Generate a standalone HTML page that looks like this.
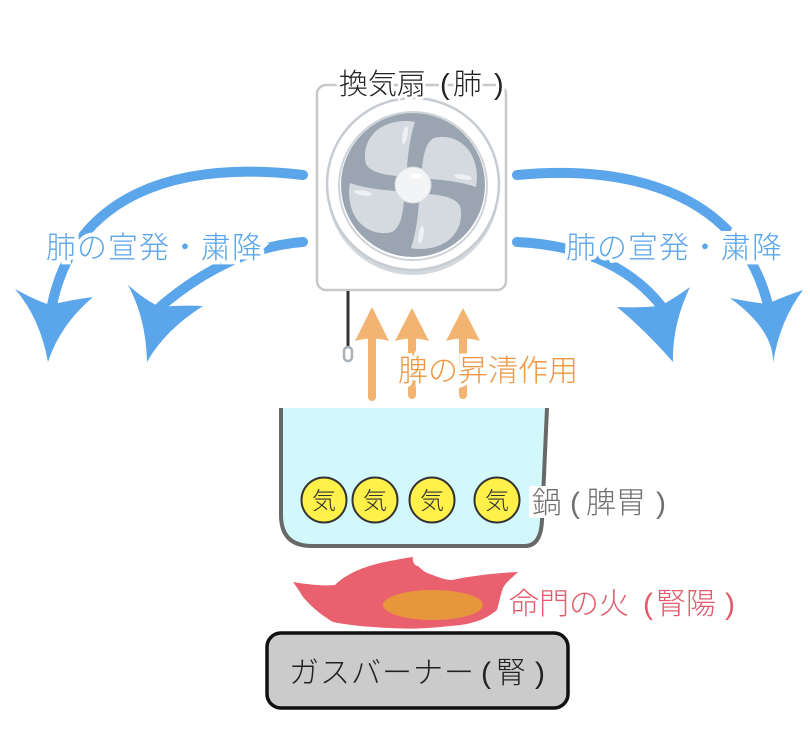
<!DOCTYPE html>
<html><head><meta charset="utf-8"><style>
html,body{margin:0;padding:0;background:#fff;}
svg{display:block;}
text{font-family:"Liberation Sans","Noto Sans CJK JP",sans-serif;font-weight:300;}
</style></head><body>
<svg width="810" height="730" viewBox="0 0 810 730" xmlns="http://www.w3.org/2000/svg">
<rect width="810" height="730" fill="#fff"/>

<!-- Blue arcs -->
<g fill="none" stroke="#5ba5eb" stroke-width="10" stroke-linecap="round">
  <path d="M303,175 C175,160 75,195 52,305"/>
  <path d="M303,242 C258,245 208,266 160,307"/>
  <path d="M517,175 C640,163 742,200 768,305"/>
  <path d="M517,242 C580,245 630,266 662,307"/>
</g>
<g fill="#5ba5eb">
  <path d="M48,362 Q40,318 15,289 Q35,300 50,305 Q70,300 93,297 Q60,325 48,362 Z"/>
  <path d="M147,362 Q146,318 128,285 Q145,300 160,307 Q180,305 203,306 Q165,330 147,362 Z"/>
  <path d="M773,363 Q774,330 730,298 Q750,302 767,304 Q785,296 803,290 Q780,320 773,363 Z"/>
  <path d="M673,362 Q645,330 617,307 Q640,308 660,306 Q675,298 690,287 Q672,325 673,362 Z"/>
</g>
<g fill="#5ba5eb" stroke="#fff" stroke-width="8" paint-order="stroke" font-size="30">
  <text x="46" y="258" textLength="216" lengthAdjust="spacing">肺の宣発・粛降</text>
  <text x="566" y="258" textLength="216" lengthAdjust="spacing">肺の宣発・粛降</text>
</g>

<!-- Fan box -->
<rect x="317" y="85" width="189" height="205" rx="9" fill="#fff" stroke="#c6c8cb" stroke-width="2.5"/>
<!-- fan -->
<circle cx="413" cy="189" r="86" fill="#d3d8dd"/>
<circle cx="413" cy="184" r="86" fill="#fff" stroke="#c6ccd2" stroke-width="2.5"/>
<circle cx="413" cy="186" r="74" fill="#fff" stroke="#cfd4d9" stroke-width="2"/>
<circle cx="413" cy="185" r="72" fill="#9aa5b1"/>
<g transform="translate(413,185)" fill="#d5dae0">
  <path d="M-6,-17 C-5,-32 -3,-48 2,-63 C-12,-66 -28,-62 -37,-54 C-47,-45 -50,-32 -47,-21 C-43,-13 -30,-10 -15,-9 Z"/>
  <path d="M-6,-17 C-5,-32 -3,-48 2,-63 C-12,-66 -28,-62 -37,-54 C-47,-45 -50,-32 -47,-21 C-43,-13 -30,-10 -15,-9 Z" transform="rotate(90)"/>
  <path d="M-6,-17 C-5,-32 -3,-48 2,-63 C-12,-66 -28,-62 -37,-54 C-47,-45 -50,-32 -47,-21 C-43,-13 -30,-10 -15,-9 Z" transform="rotate(180)"/>
  <path d="M-6,-17 C-5,-32 -3,-48 2,-63 C-12,-66 -28,-62 -37,-54 C-47,-45 -50,-32 -47,-21 C-43,-13 -30,-10 -15,-9 Z" transform="rotate(270)"/>
  <g fill="#eef0f3">
    <ellipse cx="-8" cy="-50" rx="2.5" ry="9" transform="rotate(10 -8 -50)"/>
    <ellipse cx="50" cy="-8" rx="9" ry="2.5" transform="rotate(10 50 -8)"/>
    <ellipse cx="8" cy="50" rx="2.5" ry="9" transform="rotate(10 8 50)"/>
    <ellipse cx="-50" cy="8" rx="9" ry="2.5" transform="rotate(10 -50 8)"/>
  </g>
  <circle cx="0" cy="0" r="18" fill="#f3f4f6" stroke="#d8dce0" stroke-width="1"/>
  <ellipse cx="3" cy="-9" rx="6" ry="2.5" fill="#fff"/>
</g>
<!-- fan label -->
<g fill="#222" stroke="#fff" stroke-width="6" paint-order="stroke" font-size="29">
  <text x="339" y="94">換気扇</text>
  <text x="440" y="94">(</text>
  <text x="453" y="94">肺</text>
  <text x="494" y="94">)</text>
</g>
<!-- cord -->
<line x1="348" y1="291" x2="348" y2="347" stroke="#333" stroke-width="3"/>
<rect x="344" y="347" width="8" height="14" rx="4" fill="#fff" stroke="#a8b0b8" stroke-width="2.5"/>

<!-- Orange arrows -->
<g stroke="#f2b470" stroke-width="8" stroke-linecap="round">
  <line x1="372" y1="335" x2="372" y2="397"/>
  <line x1="412" y1="335" x2="412" y2="395"/>
  <line x1="463" y1="335" x2="463" y2="395"/>
</g>
<g fill="#f2b470">
  <path d="M372,307 L355,341 Q372,336 389,341 Z"/>
  <path d="M412,308 L395,341 Q412,336 429,341 Z"/>
  <path d="M463,308 L446,341 Q463,336 480,341 Z"/>
</g>
<text x="398" y="381" font-size="30" fill="#ee9640" stroke="#fff" stroke-width="7" paint-order="stroke">脾の昇清作用</text>

<!-- Pot -->
<path d="M281,408 L281,515 Q281,546 312,546 L525,546 Q541,546 542,520 L547,408 Z" fill="#d3f8fb"/>
<path d="M281,408 L281,515 Q281,546 312,546 L525,546 Q541,546 542,520 L547,408" fill="none" stroke="#686868" stroke-width="4"/>
<g fill="#fff04a" stroke="#333" stroke-width="2">
  <circle cx="324" cy="500" r="22.5"/>
  <circle cx="375" cy="500" r="22.5"/>
  <circle cx="432" cy="500" r="22.5"/>
  <circle cx="497" cy="500" r="22.5"/>
</g>
<g fill="#333" font-size="24" text-anchor="middle">
  <text x="324" y="509">気</text>
  <text x="375" y="509">気</text>
  <text x="432" y="509">気</text>
  <text x="497" y="509">気</text>
</g>
<rect x="529" y="486" width="138" height="32" fill="#fff"/>
<g fill="#707070" font-size="30">
  <text x="532" y="513">鍋</text>
  <text x="570" y="513">(</text>
  <text x="586" y="513">脾胃</text>
  <text x="656" y="513">)</text>
</g>

<!-- Flame -->
<path d="M293,582 C310,585 325,586 335,585 C345,575 360,568 380,563 C395,560 405,558 413,557 C412,562 415,566 418,566 C422,570 426,573 430,574 C440,578 446,580 452,580 C470,576 495,573 518,572 C512,578 506,582 503,588 C500,596 499,604 497,610 C485,620 470,625 450,626 C425,629 405,629 390,628 C365,627 348,625 333,622 C318,613 310,605 303,597 C300,592 296,586 293,582 Z" fill="#e9606f"/>
<ellipse cx="433" cy="605" rx="50" ry="15" fill="#e8963c"/>
<g fill="#e25a6c" font-size="30">
  <text x="509" y="614">命門の火</text>
  <text x="643" y="614">(</text>
  <text x="656" y="614">腎陽</text>
  <text x="725" y="614">)</text>
</g>

<!-- Burner -->
<rect x="267" y="633" width="301" height="75" rx="14" fill="#cbcbcb" stroke="#111" stroke-width="3.5"/>
<g fill="#222" font-size="30">
  <text x="289" y="683" textLength="185" lengthAdjust="spacing">ガスバーナー</text>
  <text x="481" y="683">(</text>
  <text x="496" y="683">腎</text>
  <text x="535" y="683">)</text>
</g>
</svg>
</body></html>
